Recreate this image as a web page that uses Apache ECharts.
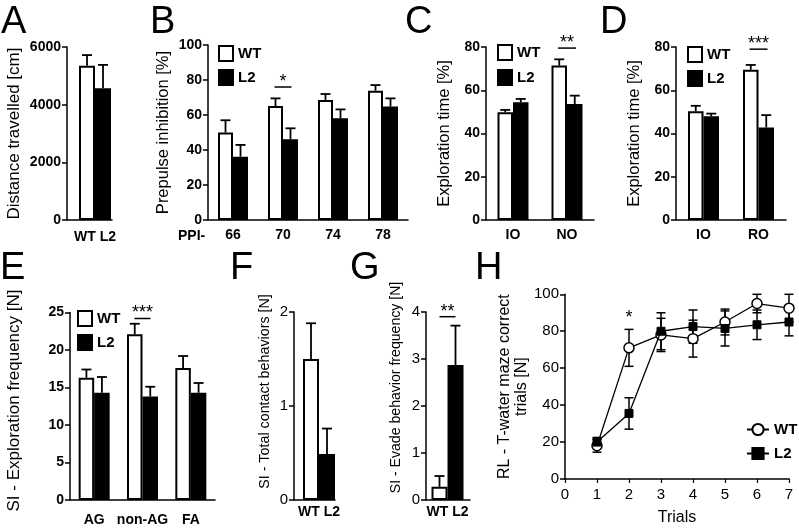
<!DOCTYPE html>
<html><head><meta charset="utf-8">
<script src="https://cdn.jsdelivr.net/npm/echarts@6/dist/echarts.min.js"></script>
<style>html,body{margin:0;padding:0;background:#fff}#c{width:799px;height:529px}</style>
</head><body><div id="c"></div>
<script>
// ---------------- DATA ----------------
const groups = ['WT', 'L2'];

const catsA = ['WT', 'L2'];
const meanA = [5350, 4570];
const errA = [370, 810];

const catsB = ['66', '70', '74', '78'];
const wtB = [50, 65.1, 68.6, 73.9];
const wtErrB = [7, 4.4, 3.4, 3.2];
const l2B = [36.2, 46.1, 58.1, 64.8];
const l2ErrB = [6.7, 6.3, 5.1, 4.7];

const catsC = ['IO', 'NO'];
const wtC = [49.8, 71.4];
const wtErrC = [1.1, 2.9];
const l2C = [54.4, 53.6];
const l2ErrC = [1.6, 3.9];

const catsD = ['IO', 'RO'];
const wtD = [50.3, 69.5];
const wtErrD = [2.5, 2.2];
const l2D = [48, 42.8];
const l2ErrD = [1.2, 5.7];

const catsE = ['AG', 'non-AG', 'FA'];
const wtE = [16.3, 22.1, 17.6];
const wtErrE = [1.1, 1.4, 1.6];
const l2E = [14.3, 13.8, 14.3];
const l2ErrE = [2.1, 1.3, 1.3];

const catsF = ['WT', 'L2'];
const meanF = [1.5, 0.49];
const errF = [0.38, 0.27];

const catsG = ['WT', 'L2'];
const meanG = [0.28, 2.87];
const errG = [0.23, 0.84];

const trialsH = [1, 2, 3, 4, 5, 6, 7];
const wtH = [18, 71, 78, 76, 85, 95, 92.5];
const wtErrH = [3.5, 10, 9, 10, 7, 5, 7.5];
const l2H = [20, 35.5, 80, 82.5, 81.5, 83.5, 85];
const l2ErrH = [2.5, 8.5, 10, 9, 9.5, 8, 7.5];

// significance markers: [category, level, label]
const sigB = ['70', 76, '*'];
const sigC = ['NO', 79.5, '**'];
const sigD = ['RO', 79, '***'];
const sigE = ['non-AG', 24.2, '***'];
const sigG = [3.9, '**'];
const sigH = [2, 87, '*'];

const panelLetters = ['A', 'B', 'C', 'D', 'E', 'F', 'G', 'H'];
const titleE = 'SI - Exploration frequency [N]';
const titleF = 'SI - Total contact behaviors [N]';
const titleG = 'SI - Evade behavior frequency [N]';

// ---------------- STYLE / LAYOUT ----------------
const FONT = '"Liberation Sans", Arial, Helvetica, sans-serif';
const BLACK = '#000';
const fill = { WT: '#ffffff', L2: '#000000' };
const LW = 1.5;

const grids = [
  { left: 67, top: 47, width: 45, height: 173 },      // A
  { left: 208, top: 45, width: 200, height: 175 },    // B
  { left: 486, top: 47, width: 108, height: 173 },    // C
  { left: 676, top: 47, width: 110, height: 173 },    // D
  { left: 70, top: 312.5, width: 145, height: 187.5 },// E
  { left: 294, top: 312, width: 41, height: 188 },    // F
  { left: 426, top: 312, width: 44, height: 188 },    // G
  { left: 565, top: 294.3, width: 224, height: 184.7 } // H
].map(g => Object.assign({ outerBoundsMode: 'none', containLabel: false }, g));

const letterPos = [[1, 4], [150, 4], [405, 4], [600, 4], [0, 250], [230, 250], [350, 250], [475, 250]];

function yAxisDef(gi, max, interval, name, o) {
  return {
    type: 'value', gridIndex: gi, min: 0, max: max, interval: interval,
    name: name, nameLocation: 'middle', nameGap: o.gap, nameRotate: 90, nameMoveOverlap: false,
    nameTextStyle: { color: BLACK, fontFamily: FONT, fontSize: o.nameSize, lineHeight: o.lh || undefined },
    axisLine: { show: true, onZero: false, lineStyle: { color: BLACK, width: LW } },
    axisTick: { show: true, length: 5, lineStyle: { color: BLACK, width: LW } },
    axisLabel: { color: BLACK, fontFamily: FONT, fontSize: o.labelSize || 14, fontWeight: o.labelWeight || 'bold', margin: 6,
      formatter: v => String(v) },
    splitLine: { show: false }
  };
}
function xCatDef(gi, data, margin) {
  return {
    type: 'category', gridIndex: gi, data: data, boundaryGap: true,
    axisLine: { show: true, onZero: false, lineStyle: { color: BLACK, width: LW } },
    axisTick: { show: false },
    axisLabel: { color: BLACK, fontFamily: FONT, fontSize: 14, fontWeight: 'bold', margin: margin, interval: 0 },
    splitLine: { show: false }
  };
}
function xPosDef(gi, cats, min, max, margin) {
  return {
    type: 'value', gridIndex: gi, min: min, max: max,
    axisLine: { show: true, onZero: false, lineStyle: { color: BLACK, width: LW } },
    axisTick: { show: false }, splitLine: { show: false },
    axisLabel: { color: BLACK, fontFamily: FONT, fontSize: 14, fontWeight: 'bold', margin: margin,
      customValues: [(1 + cats.length) / 2], formatter: () => cats.join(' ') }
  };
}

function pairBars(gi, wt, l2, bw) {
  const base = { type: 'bar', xAxisIndex: gi, yAxisIndex: gi, barWidth: bw, barGap: '0%', silent: true, z: 2 };
  return [
    Object.assign({ name: 'WT', data: wt, itemStyle: { color: fill.WT, borderColor: BLACK, borderWidth: 2 } }, base),
    Object.assign({ name: 'L2', data: l2, itemStyle: { color: fill.L2, borderColor: BLACK, borderWidth: 2 } }, base)
  ];
}
function singleBars(gi, cats, means, bw) {
  return {
    name: 'bars' + gi, type: 'bar', xAxisIndex: gi, yAxisIndex: gi, barWidth: bw, silent: true, z: 2,
    data: cats.map((c, i) => ({ value: [i + 1, means[i]], itemStyle: { color: fill[c] } })),
    itemStyle: { borderColor: BLACK, borderWidth: 2 }
  };
}
function errBars(gi, pts, cap, both, lw) {
  return {
    type: 'custom', name: 'err' + gi, xAxisIndex: gi, yAxisIndex: gi, z: 5, silent: true,
    data: pts,
    renderItem: function (params, api) {
      const x = api.value(0), m = api.value(1), e = api.value(2), off = api.value(3);
      const c = api.coord([x, m]);
      const hi = api.coord([x, m + e]);
      const lo = api.coord([x, both ? m - e : m]);
      const cx = c[0] + off;
      const st = { stroke: BLACK, lineWidth: lw || 1.8 };
      const ch = [
        { type: 'line', shape: { x1: cx, y1: lo[1], x2: cx, y2: hi[1] }, style: st },
        { type: 'line', shape: { x1: cx - cap, y1: hi[1], x2: cx + cap, y2: hi[1] }, style: st }
      ];
      if (both) ch.push({ type: 'line', shape: { x1: cx - cap, y1: lo[1], x2: cx + cap, y2: lo[1] }, style: st });
      return { type: 'group', children: ch };
    }
  };
}
function pairErrPts(wt, wtErr, l2, l2Err, bw) {
  const pts = [];
  wt.forEach((v, i) => { pts.push([i, v, wtErr[i], -bw / 2]); pts.push([i, l2[i], l2Err[i], bw / 2]); });
  return pts;
}
function sigMark(gi, x, level, text, half, withLine) {
  return {
    type: 'custom', name: 'sig' + gi, xAxisIndex: gi, yAxisIndex: gi, z: 6, silent: true,
    data: [[x, level]],
    renderItem: function (params, api) {
      const p = api.coord([api.value(0), api.value(1)]);
      const ch = [];
      if (withLine) ch.push({ type: 'line', shape: { x1: p[0] - half, y1: p[1], x2: p[0] + half, y2: p[1] }, style: { stroke: BLACK, lineWidth: 1.5 } });
      ch.push({ type: 'text', x: p[0], y: withLine ? p[1] + 4 : p[1],
        style: { text: text, align: 'center', verticalAlign: withLine ? 'bottom' : 'middle', fontSize: 18, fontFamily: FONT, fill: BLACK } });
      return { type: 'group', children: ch };
    }
  };
}
function vTitle(text, x, y, size) {
  return { type: 'text', x: x, y: y, rotation: Math.PI / 2, silent: true,
    style: { text: text, fontFamily: FONT, fontSize: size, fill: BLACK, align: 'center', verticalAlign: 'middle' } };
}

const legendText = { color: BLACK, fontFamily: FONT, fontSize: 15, fontWeight: 'bold' };
function barLegend(left, top, gap) {
  return { data: groups, orient: 'vertical', left: left, top: top, itemWidth: 14, itemHeight: 15, itemGap: gap,
    icon: 'rect', selectedMode: false, textStyle: legendText, padding: 0 };
}

const option = {
  animation: false,
  backgroundColor: '#fff',
  grid: grids,
  xAxis: [
    xPosDef(0, catsA, -0.25, 2.5625, 10),
    xCatDef(1, catsB, 8),
    xCatDef(2, catsC, 8),
    xCatDef(3, catsD, 8),
    xCatDef(4, catsE, 13),
    xPosDef(5, catsF, -0.0625, 2.5, 5),
    xPosDef(6, catsG, 0.156, 2.906, 5),
    {
      type: 'value', gridIndex: 7, min: 0, max: 7, interval: 1,
      name: 'Trials', nameLocation: 'middle', nameGap: 31, nameMoveOverlap: false,
      nameTextStyle: { color: BLACK, fontFamily: FONT, fontSize: 16 },
      axisLine: { show: true, onZero: false, lineStyle: { color: BLACK, width: LW } },
      axisTick: { show: true, length: 4, lineStyle: { color: BLACK, width: 1.2 } },
      axisLabel: { color: BLACK, fontFamily: FONT, fontSize: 15, margin: 8 },
      splitLine: { show: false }
    }
  ],
  yAxis: [
    yAxisDef(0, 6000, 2000, 'Distance travelled [cm]', { gap: 44, nameSize: 17 }),
    yAxisDef(1, 100, 20, 'Prepulse inhibition [%]', { gap: 36, nameSize: 16.5 }),
    yAxisDef(2, 80, 20, 'Exploration time [%]', { gap: 33, nameSize: 16.5 }),
    yAxisDef(3, 80, 20, 'Exploration time [%]', { gap: 33, nameSize: 16.5 }),
    yAxisDef(4, 25, 5, '', { gap: 48, nameSize: 18 }),
    yAxisDef(5, 2, 1, '', { gap: 21, nameSize: 14.3, labelWeight: 'normal', labelSize: 15 }),
    yAxisDef(6, 4, 1, '', { gap: 23, nameSize: 14.1, labelWeight: 'normal', labelSize: 15 }),
    yAxisDef(7, 100, 20, 'RL - T-water maze correct\ntrials [N]', { gap: 35, nameSize: 16, lh: 17, labelWeight: 'normal', labelSize: 15 })
  ],
  legend: [
    barLegend(218, 45, 7),
    barLegend(497, 44, 8),
    barLegend(687, 46, 7),
    barLegend(77, 310, 7),
    { data: ['H-WT', 'H-L2'], formatter: n => n.replace('H-', ''), orient: 'vertical', left: 746, top: 422,
      itemWidth: 22, itemHeight: 14, itemGap: 9, selectedMode: false, textStyle: legendText, padding: 0 }
  ],
  series: [
    // A
    singleBars(0, catsA, meanA, 16),
    errBars(0, catsA.map((c, i) => [i + 1, meanA[i], errA[i], 0]), 5),
    // B
    ...pairBars(1, wtB, l2B, 15),
    errBars(1, pairErrPts(wtB, wtErrB, l2B, l2ErrB, 15), 5),
    sigMark(1, catsB.indexOf(sigB[0]), sigB[1], sigB[2], 8.5, true),
    // C
    ...pairBars(2, wtC, l2C, 15.5),
    errBars(2, pairErrPts(wtC, wtErrC, l2C, l2ErrC, 15.5), 5),
    sigMark(2, catsC.indexOf(sigC[0]), sigC[1], sigC[2], 9, true),
    // D
    ...pairBars(3, wtD, l2D, 15.5),
    errBars(3, pairErrPts(wtD, wtErrD, l2D, l2ErrD, 15.5), 5),
    sigMark(3, catsD.indexOf(sigD[0]), sigD[1], sigD[2], 9, true),
    // E
    ...pairBars(4, wtE, l2E, 15.5),
    errBars(4, pairErrPts(wtE, wtErrE, l2E, l2ErrE, 15.5), 5),
    sigMark(4, catsE.indexOf(sigE[0]), sigE[1], sigE[2], 8, true),
    // F
    singleBars(5, catsF, meanF, 16),
    errBars(5, catsF.map((c, i) => [i + 1, meanF[i], errF[i], 0]), 5),
    // G
    singleBars(6, catsG, meanG, 16),
    errBars(6, catsG.map((c, i) => [i + 1, meanG[i], errG[i], 0]), 5),
    sigMark(6, (1 + catsG.length) / 2, sigG[0], sigG[1], 8, true),
    // H
    errBars(7, trialsH.map((t, i) => [t, wtH[i], wtErrH[i], 0]), 4.5, true, 1.5),
    errBars(7, trialsH.map((t, i) => [t, l2H[i], l2ErrH[i], 0]), 4.5, true, 1.5),
    {
      name: 'H-WT', type: 'line', xAxisIndex: 7, yAxisIndex: 7, z: 7, silent: true,
      data: trialsH.map((t, i) => [t, wtH[i]]),
      symbol: 'circle', symbolSize: 10, showAllSymbol: true,
      itemStyle: { color: '#fff', borderColor: BLACK, borderWidth: 1.5 },
      lineStyle: { color: BLACK, width: 1.3 }
    },
    {
      name: 'H-L2', type: 'line', xAxisIndex: 7, yAxisIndex: 7, z: 8, silent: true,
      data: trialsH.map((t, i) => [t, l2H[i]]),
      symbol: 'rect', symbolSize: 8, showAllSymbol: true,
      itemStyle: { color: BLACK, borderColor: BLACK, borderWidth: 1 },
      lineStyle: { color: BLACK, width: 1.3 }
    },
    sigMark(7, sigH[0], sigH[1], sigH[2], 0, false)
  ],
  graphic: [
    ...panelLetters.map((t, i) => ({
      type: 'text', x: letterPos[i][0], y: letterPos[i][1], silent: true,
      style: { text: t, fontFamily: FONT, fontSize: 38, fill: BLACK, verticalAlign: 'top' }
    })),
    { type: 'text', x: 178, y: 229, silent: true,
      style: { text: 'PPI-', fontFamily: FONT, fontSize: 14, fontWeight: 'bold', fill: BLACK, verticalAlign: 'top' } },
    vTitle(titleE, 14.5, 400.5, 17),
    vTitle(titleF, 265.5, 391.5, 14.3),
    vTitle(titleG, 396.5, 387.5, 14.1)
  ]
};

const chart = echarts.init(document.getElementById('c'), null, { renderer: 'canvas' });
chart.setOption(option);
</script>
</body></html>
